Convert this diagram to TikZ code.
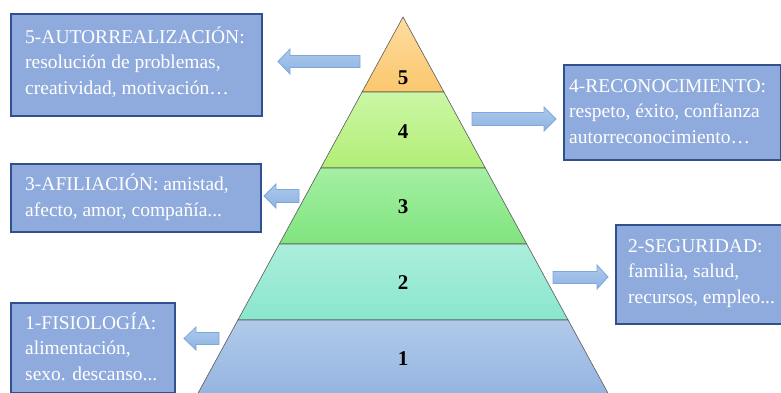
\documentclass[tikz,border=0pt]{standalone}
\usepackage{fontspec}
\setmainfont{Liberation Serif}
\definecolor{boxfill}{HTML}{8FAADC}
\definecolor{boxborder}{HTML}{2F528F}
\definecolor{arrowtop}{HTML}{ADCAEC}
\definecolor{arrowbot}{HTML}{8DB2E2}
\definecolor{arrowline}{HTML}{7FA7DA}
\definecolor{lfivet}{HTML}{FEDCA0}
\definecolor{lfiveb}{HTML}{FAC76C}
\definecolor{lfourt}{HTML}{CBF7A6}
\definecolor{lfourb}{HTML}{B2EE76}
\definecolor{lthreet}{HTML}{A4F0A3}
\definecolor{lthreeb}{HTML}{80E47E}
\definecolor{ltwot}{HTML}{ABEEDB}
\definecolor{ltwob}{HTML}{8AE6CE}
\definecolor{lonet}{HTML}{B1CAE9}
\definecolor{loneb}{HTML}{92B3E0}
\begin{document}
\begin{tikzpicture}[x=1pt,y=-1pt,
  band/.style={draw=black!65, line width=0.6pt},
  lvl/.style={font=\fontsize{21}{21}\selectfont\bfseries, inner sep=0pt},
  infobox/.style={draw=boxborder, line width=1.6pt, fill=boxfill, anchor=north west, inner sep=0pt},
  infotext/.style={text=white, font=\fontsize{19.5}{25.5}\selectfont, align=left, inner sep=0pt, anchor=base west},
  barrow/.style={draw=arrowline, line width=0.8pt, top color=arrowtop, bottom color=arrowbot, line join=miter}
]
\useasboundingbox (0,0) rectangle (781,392);
\clip (0,0) rectangle (781,392);

% pyramid bands
\path[band, top color=lfivet, bottom color=lfiveb] (403,17) -- (443.9,92) -- (362.1,92) -- cycle;
\path[band, top color=lfourt, bottom color=lfourb] (362.1,92) -- (443.9,92) -- (485.3,168) -- (320.7,168) -- cycle;
\path[band, top color=lthreet, bottom color=lthreeb] (320.7,168) -- (485.3,168) -- (526.7,244) -- (279.3,244) -- cycle;
\path[band, top color=ltwot, bottom color=ltwob] (279.3,244) -- (526.7,244) -- (568.1,320) -- (237.9,320) -- cycle;
\path[band, top color=lonet, bottom color=loneb] (237.9,320) -- (568.1,320) -- (611.7,400) -- (194.3,400) -- cycle;

\node[lvl] (n5) at (403,78) {5};
\node[lvl] (n4) at (403,132) {4};
\node[lvl] (n3) at (403,207) {3};
\node[lvl] (n2) at (403,283) {2};
\node[lvl] (n1) at (403,359) {1};

% boxes (text anchored at the baseline of its last line)
\node[infobox, minimum width=251pt, minimum height=102pt] (b5) at (10,13) {};
\node[infotext] (t5) at (25,94) {5-AUTORREALIZACIÓN:\\resolución de problemas,\\creatividad, motivación…};

\node[infobox, minimum width=217pt, minimum height=95pt] (b4) at (563,64) {};
\node[infotext] (t4) at (569,143) {4-RECONOCIMIENTO:\\respeto, éxito, confianza\\autorreconocimiento…};

\node[infobox, minimum width=250pt, minimum height=68pt] (b3) at (10,163) {};
\node[infotext] (t3) at (25,216) {3-AFILIACIÓN: amistad,\\afecto, amor, compañía...};

\node[infobox, minimum width=170pt, minimum height=99pt] (b2) at (615,224) {};
\node[infotext] (t2) at (628,303) {2-SEGURIDAD:\\familia, salud,\\recursos, empleo...};

\node[infobox, minimum width=164pt, minimum height=90pt] (b1) at (10,302) {};
\node[infotext] (t1) at (25,380) {1-FISIOLOGÍA:\\alimentación,\\sexo. descanso...};

% block arrows
\path[barrow] (278,61.5) -- (290,49) -- (290,55.5) -- (360,55.5) -- (360,67.5) -- (290,67.5) -- (290,74) -- cycle;
\path[barrow] (472,112.5) -- (544,112.5) -- (544,107) -- (556,119) -- (544,131) -- (544,125.5) -- (472,125.5) -- cycle;
\path[barrow] (264,196) -- (276,184) -- (276,189.5) -- (299,189.5) -- (299,202.5) -- (276,202.5) -- (276,208) -- cycle;
\path[barrow] (553,271.5) -- (597,271.5) -- (597,265) -- (608,277) -- (597,289) -- (597,283.5) -- (553,283.5) -- cycle;
\path[barrow] (184,338.5) -- (196,327) -- (196,332.5) -- (219,332.5) -- (219,344.5) -- (196,344.5) -- (196,350) -- cycle;
\end{tikzpicture}
\end{document}
